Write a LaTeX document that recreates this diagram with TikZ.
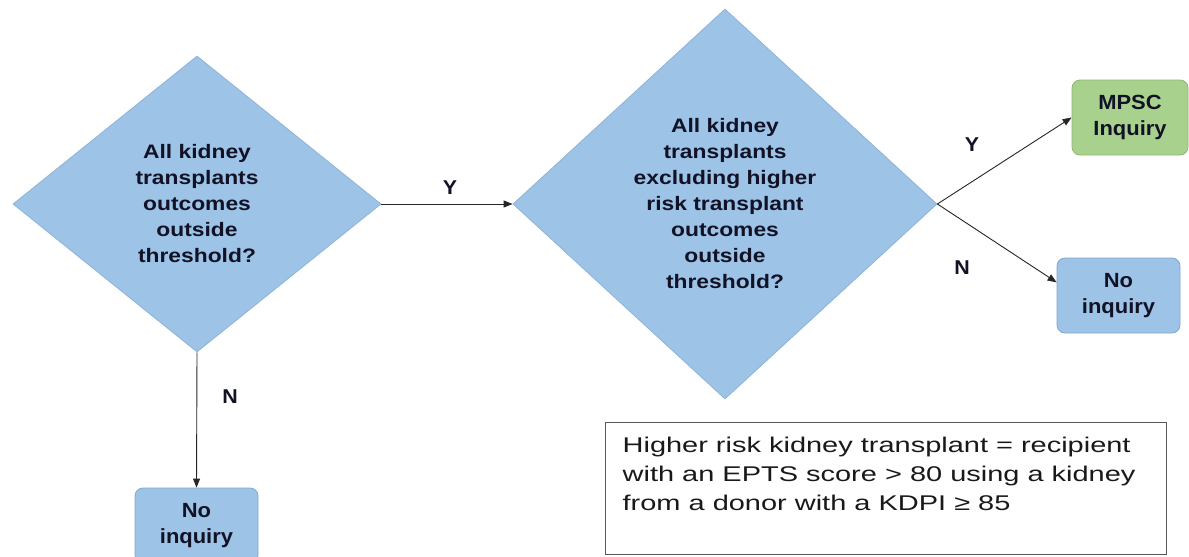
\documentclass[tikz,border=0pt]{standalone}
\usepackage{fontspec}
\setmainfont{Liberation Sans}
\newfontfamily\dfont[FakeStretch=1.17]{Liberation Sans Bold}
\newfontfamily\bxfont[FakeStretch=1.07]{Liberation Sans Bold}
\newfontfamily\nfont[FakeStretch=1.36]{Liberation Sans}
\usetikzlibrary{shapes.geometric,arrows.meta}
\definecolor{dfill}{HTML}{9DC3E6}
\definecolor{dline}{HTML}{8DB3DB}
\definecolor{bline}{HTML}{7FA7D3}
\definecolor{gfill}{HTML}{A9D18E}
\definecolor{gline}{HTML}{8CB870}
\definecolor{txt}{HTML}{121226}
\begin{document}
\begin{tikzpicture}[x=1pt,y=-1pt,
  decision/.style={diamond, fill=dfill, draw=dline, line width=0.8pt, inner sep=0pt,
    align=center, text=txt, font=\dfont\fontsize{19.5}{26}\selectfont},
  endbox/.style={rectangle, rounded corners=8pt, minimum width=123pt, minimum height=75pt,
    inner sep=0pt, align=center, text=txt, font=\bxfont\fontsize{20.5}{26}\selectfont, line width=0.8pt},
  conn/.style={-{Triangle[length=9pt,width=7pt]}, line width=0.9pt, draw=black!85},
  lbl/.style={font=\bxfont\fontsize{20}{22}\selectfont, text=txt, inner sep=0pt},
  notebox/.style={rectangle, draw=black!65, line width=1.3pt, anchor=north west,
    inner xsep=17pt, inner ysep=14pt, text=black!90, font=\nfont\fontsize{21.3}{29}\selectfont}
]
\useasboundingbox (0,0) rectangle (1189,557);
\fill[white] (0,0) rectangle (1189,557);

\node[decision, minimum width=368pt, minimum height=296pt] (d1) at (197,204)
  {All kidney\\transplants\\outcomes\\outside\\threshold?};
\node[decision, minimum width=424pt, minimum height=390pt] (d2) at (725,204)
  {All kidney\\transplants\\excluding higher\\risk transplant\\outcomes\\outside\\threshold?};

\node[endbox, fill=gfill, draw=gline, minimum width=116pt] (m) at (1130,117.5) {MPSC\\Inquiry};
\node[endbox, fill=dfill, draw=bline] (n2) at (1118.5,295.5) {No\\inquiry};
\node[endbox, fill=dfill, draw=bline] (n1) at (196.5,525.5) {No\\inquiry};

\node[notebox] (note) at (605,422)
  {\begin{minipage}[t][104pt][t]{527pt}\raggedright
   Higher risk kidney transplant = recipient\\
   with an EPTS score > 80 using a kidney\\
   from a donor with a KDPI ≥ 85\end{minipage}};

\draw[conn] (d1.east) -- (d2.west);
\draw[conn] (d2.east) -- (m.west);
\draw[conn] (d2.east) -- (n2.168);
\draw[conn] (d1.south) -- (n1.north);

\node[lbl] (ly1) at (450,188) {Y};
\node[lbl] (ly2) at (972,145) {Y};
\node[lbl] (ln2) at (962,268) {N};
\node[lbl] (ln1) at (230,397) {N};
\end{tikzpicture}
\end{document}
